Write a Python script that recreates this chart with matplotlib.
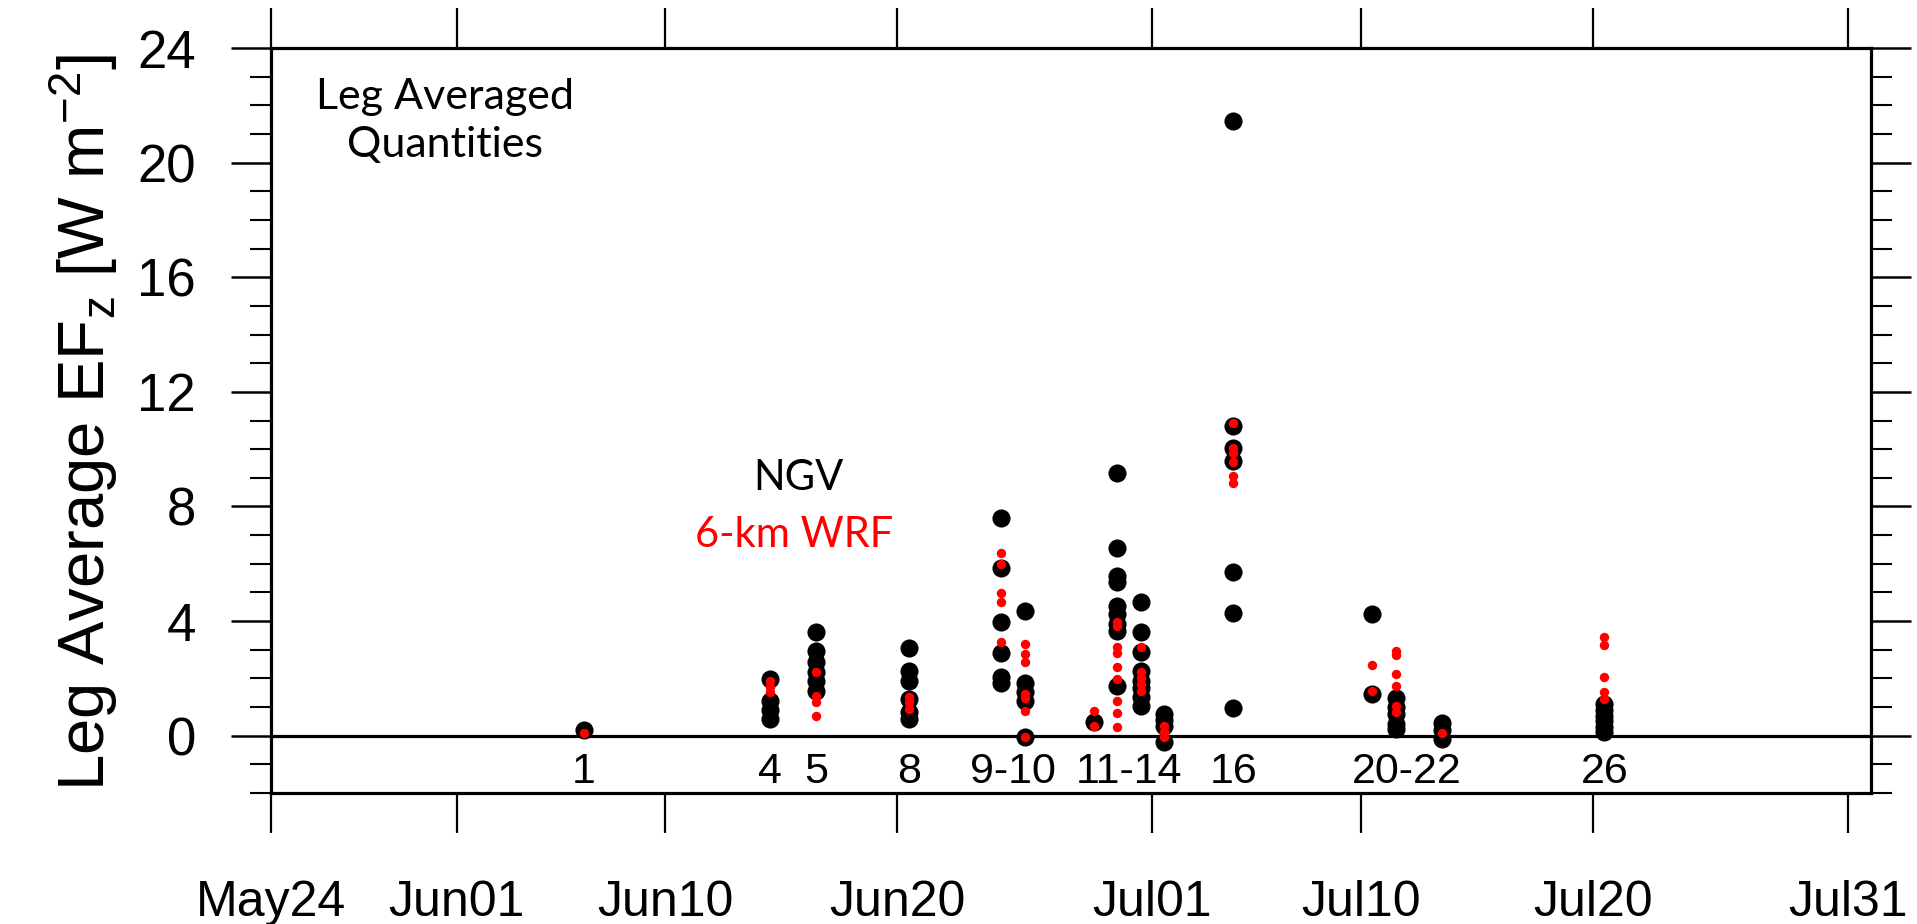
import matplotlib
matplotlib.use("Agg")
import matplotlib.pyplot as plt
import matplotlib.dates as mdates
from matplotlib.ticker import MultipleLocator
from datetime import datetime, timedelta

# ---------------- data ----------------
flight_dates = ["2008-06-06", "2008-06-14", "2008-06-16", "2008-06-20",
                "2008-06-24", "2008-06-25", "2008-06-28", "2008-06-29",
                "2008-06-30", "2008-07-01", "2008-07-04", "2008-07-10",
                "2008-07-11", "2008-07-13", "2008-07-20"]

ngv_values = [
    [0.2],
    [1.98, 1.22, 0.9, 0.58],
    [3.61, 2.97, 2.56, 2.21, 1.92, 1.57],
    [3.06, 2.27, 1.92, 1.28, 0.81, 0.58],
    [7.6, 5.85, 3.98, 2.88, 2.06, 1.83],
    [4.36, 1.83, 1.54, 1.2, -0.06],
    [0.47],
    [9.16, 6.54, 5.59, 5.36, 4.54, 4.25, 3.9, 3.67, 1.75],
    [4.66, 3.61, 2.91, 2.27, 1.92, 1.68, 1.34, 1.05],
    [0.76, 0.53, 0.35, -0.23],
    [21.45, 10.8, 10.04, 9.6, 5.73, 4.29, 0.97],
    [4.23, 1.46],
    [1.33, 1.0, 0.76, 0.4, 0.23],
    [0.43, 0.2, -0.1],
    [1.1, 0.9, 0.7, 0.5, 0.3, 0.12],
]

wrf_values = [
    [0.1],
    [1.92, 1.69, 1.51],
    [2.21, 1.4, 1.16, 0.7],
    [1.34, 1.16, 0.93],
    [6.39, 5.99, 4.97, 4.66, 3.26],
    [3.2, 2.85, 2.56, 1.46, 1.3, 0.87, -0.06],
    [0.87, 0.35],
    [3.96, 3.84, 3.09, 2.88, 2.39, 1.98, 1.2, 0.78, 0.31],
    [3.09, 2.21, 2.0, 1.8, 1.57],
    [0.35, 0.12, -0.06],
    [10.9, 10.05, 9.85, 9.55, 9.08, 8.81],
    [2.45, 1.57],
    [2.97, 2.8, 2.15, 1.75, 1.05, 0.81],
    [0.1],
    [3.43, 3.18, 2.04, 1.51, 1.28],
]

leg_labels = ["1", "4", "5", "8", "9-10", "11-14", "16", "20-22", "26"]
leg_label_dates = ["2008-06-06 12:00", "2008-06-14 12:00", "2008-06-16 12:00",
                   "2008-06-20 12:00", "2008-06-25 00:00", "2008-06-30 00:00",
                   "2008-07-04 12:00", "2008-07-12 00:00", "2008-07-20 12:00"]

x_tick_dates = ["2008-05-24", "2008-06-01", "2008-06-10", "2008-06-20",
                "2008-07-01", "2008-07-10", "2008-07-20", "2008-07-31"]

# ---------------- style ----------------
plt.rcParams["font.family"] = ["Liberation Sans", "DejaVu Sans"]
plt.rcParams["mathtext.fontset"] = "custom"
plt.rcParams["mathtext.rm"] = "Liberation Sans"
plt.rcParams["mathtext.it"] = "Liberation Sans:italic"

fig = plt.figure(figsize=(19.17, 9.24), dpi=100)
ax = fig.add_axes([0.1414, 0.1418, 0.8346, 0.8062])

def to_dt(s, hour=12):
    return datetime.strptime(s, "%Y-%m-%d") + timedelta(hours=hour)

for d, vals in zip(flight_dates, ngv_values):
    ax.scatter([to_dt(d)] * len(vals), vals, s=170, color="black",
               linewidths=0, zorder=3)
for d, vals in zip(flight_dates, wrf_values):
    ax.scatter([to_dt(d)] * len(vals), vals, s=46, color="red",
               linewidths=0, zorder=4)

ax.axhline(0, color="black", lw=2.3, zorder=2)

for lab, d in zip(leg_labels, leg_label_dates):
    ax.text(datetime.strptime(d, "%Y-%m-%d %H:%M"), -1.26, lab, ha="center",
            va="center", fontsize=31, color="black")

ax.set_xlim(datetime(2008, 5, 24), datetime(2008, 8, 1))
ax.set_ylim(-2, 24)

ax.set_xticks([datetime.strptime(s, "%Y-%m-%d") for s in x_tick_dates])
ax.xaxis.set_major_formatter(mdates.DateFormatter("%b%d"))
ax.yaxis.set_major_locator(MultipleLocator(4))
ax.yaxis.set_minor_locator(MultipleLocator(1))

ax.tick_params(axis="x", which="major", direction="out", length=29, width=1.6,
               top=True, bottom=True, labelsize=36, pad=34)
ax.tick_params(axis="y", which="major", direction="out", length=29, width=1.8,
               left=True, right=True, labelsize=38, pad=25)
ax.tick_params(axis="y", which="minor", direction="out", length=15, width=1.5,
               left=True, right=True)

for sp in ax.spines.values():
    sp.set_linewidth(2.3)

fig.text(0.0435, 0.543, "Leg Average EF$_\\mathregular{z}$ [W m$^\\mathregular{-2}$]",
         rotation=90, ha="center", va="center", fontsize=47)

base = datetime(2008, 5, 24)
ax.text(base + timedelta(days=7.5), 21.45, "Leg Averaged\nQuantities", ha="center",
        va="center", fontsize=31, family=["Lato", "DejaVu Sans"],
        linespacing=1.3, color="black")
ax.text(base + timedelta(days=22.72), 9.0, "NGV", ha="center",
        va="center", fontsize=30, family=["Lato", "DejaVu Sans"], color="black")
ax.text(base + timedelta(days=22.55), 7.02, "6-km WRF",
        ha="center", va="center", fontsize=30, family=["Lato", "DejaVu Sans"],
        color="red")

fig.savefig("out.png", dpi=100)
